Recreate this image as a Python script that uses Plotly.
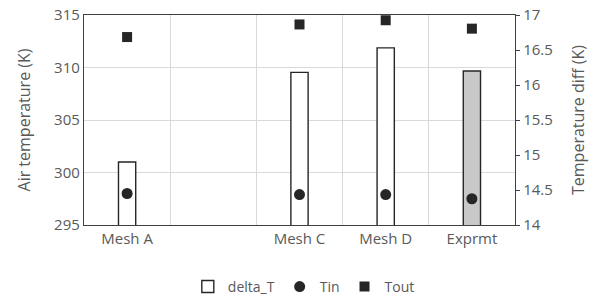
import plotly.graph_objects as go

categories = ["Mesh A", " ", "Mesh C", "Mesh D", "Exprmt"]
delta_T = [14.9, None, 16.18, 16.53, 16.2]
t_in = [298.0, None, 297.9, 297.9, 297.5]
t_out = [312.9, None, 314.1, 314.5, 313.7]
bar_fill = ["white", "white", "white", "white", "#c8c8c8"]

txt = "#595959"
dark = "#262626"
font_family = "Open Sans, Liberation Sans, sans-serif"

fig = go.Figure()
fig.add_trace(go.Bar(
    x=categories, y=delta_T, name="delta_T", yaxis="y",
    marker=dict(color=bar_fill, line=dict(color=dark, width=1.4)),
    width=0.2,
))
fig.add_trace(go.Scatter(
    x=categories, y=t_in, name="Tin", yaxis="y2", mode="markers",
    marker=dict(symbol="circle", size=11, color=dark),
))
fig.add_trace(go.Scatter(
    x=categories, y=t_out, name="Tout", yaxis="y2", mode="markers",
    marker=dict(symbol="square", size=10, color=dark),
))

fig.update_layout(
    width=603, height=299,
    margin=dict(l=84, r=88, t=15, b=74, autoexpand=False),
    plot_bgcolor="white", paper_bgcolor="white",
    font=dict(family=font_family, color=txt, size=15),
    showlegend=True,
    legend=dict(orientation="h", x=0.51, xanchor="center", y=-0.295, yanchor="middle",
                font=dict(size=14, color=txt), itemwidth=30, traceorder="normal",
                tracegroupgap=0),
    xaxis=dict(
        type="category", categoryorder="array", categoryarray=categories,
        tickson="boundaries", ticks="", showgrid=True, gridcolor="#d9d9d9",
        showline=True, linecolor="#404040", linewidth=1.3, mirror=True,
        tickfont=dict(size=15, color=txt), range=[-0.5, 4.5], automargin=False,
    ),
    yaxis=dict(
        side="right", range=[14, 17], dtick=0.5, showgrid=False, zeroline=False,
        showline=True, linecolor="#404040", linewidth=1.3,
        ticks="outside", ticklen=4, tickcolor="#404040",
        tickfont=dict(size=15, color=txt), automargin=False,
        title=dict(text="Temperature diff (K)", font=dict(size=16, color=txt), standoff=20),
    ),
    yaxis2=dict(
        side="left", overlaying="y", range=[295, 315], dtick=5,
        showgrid=True, gridcolor="#d9d9d9", zeroline=False,
        showline=True, linecolor="#404040", linewidth=1.3, ticks="",
        tickfont=dict(size=15, color=txt), automargin=False,
        title=dict(text="Air temperature (K)", font=dict(size=16, color=txt), standoff=19),
    ),
    bargap=0.8,
)

fig.write_html("out.html", post_script="document.body.style.margin='0';",
               config={"displayModeBar": False})
